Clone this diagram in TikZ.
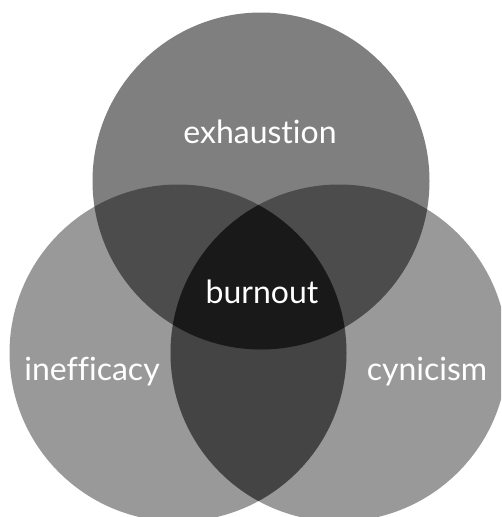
\documentclass[tikz,border=0pt]{standalone}
\usepackage{fontspec}
\setmainfont{Lato}[Ligatures=NoCommon]
\begin{document}
\begin{tikzpicture}[
    x=1pt, y=-1pt,
    set/.style={circle, minimum size=337pt, inner sep=0pt, fill=black},
    shade/.style={fill=black, fill opacity=#1},
    lbl/.style={text=white, anchor=base, font=\fontsize{32}{32}\selectfont}
]
    % frame of the picture
    \useasboundingbox (0,0) rectangle (501,517);
    \clip (0,0) rectangle (501,517);

    % The three sets
    \node[set, fill opacity=0.50] (exh) at (261,181) {};
    \node[set, fill opacity=0.40] (ineff) at (178,353) {};
    \node[set, fill opacity=0.40] (cyn) at (339,353) {};

    % darker overlaps
    \begin{scope}
        \clip (ineff.center) circle[radius=168.5];
        \fill[shade=0.26] (cyn.center) circle[radius=168.5];
        \clip (cyn.center) circle[radius=168.5];
        \fill[shade=0.25] (exh.center) circle[radius=168.5];
    \end{scope}

    % Labels
    \node[lbl] (exhlbl) at (260,143) {exhaustion};
    \node[lbl] (burn) at (262,303) {burnout};
    \node[lbl] (inefflbl) at (92,380) {inefficacy};
    \node[lbl] (cynlbl) at (427,380) {cynicism};
\end{tikzpicture}
\end{document}
